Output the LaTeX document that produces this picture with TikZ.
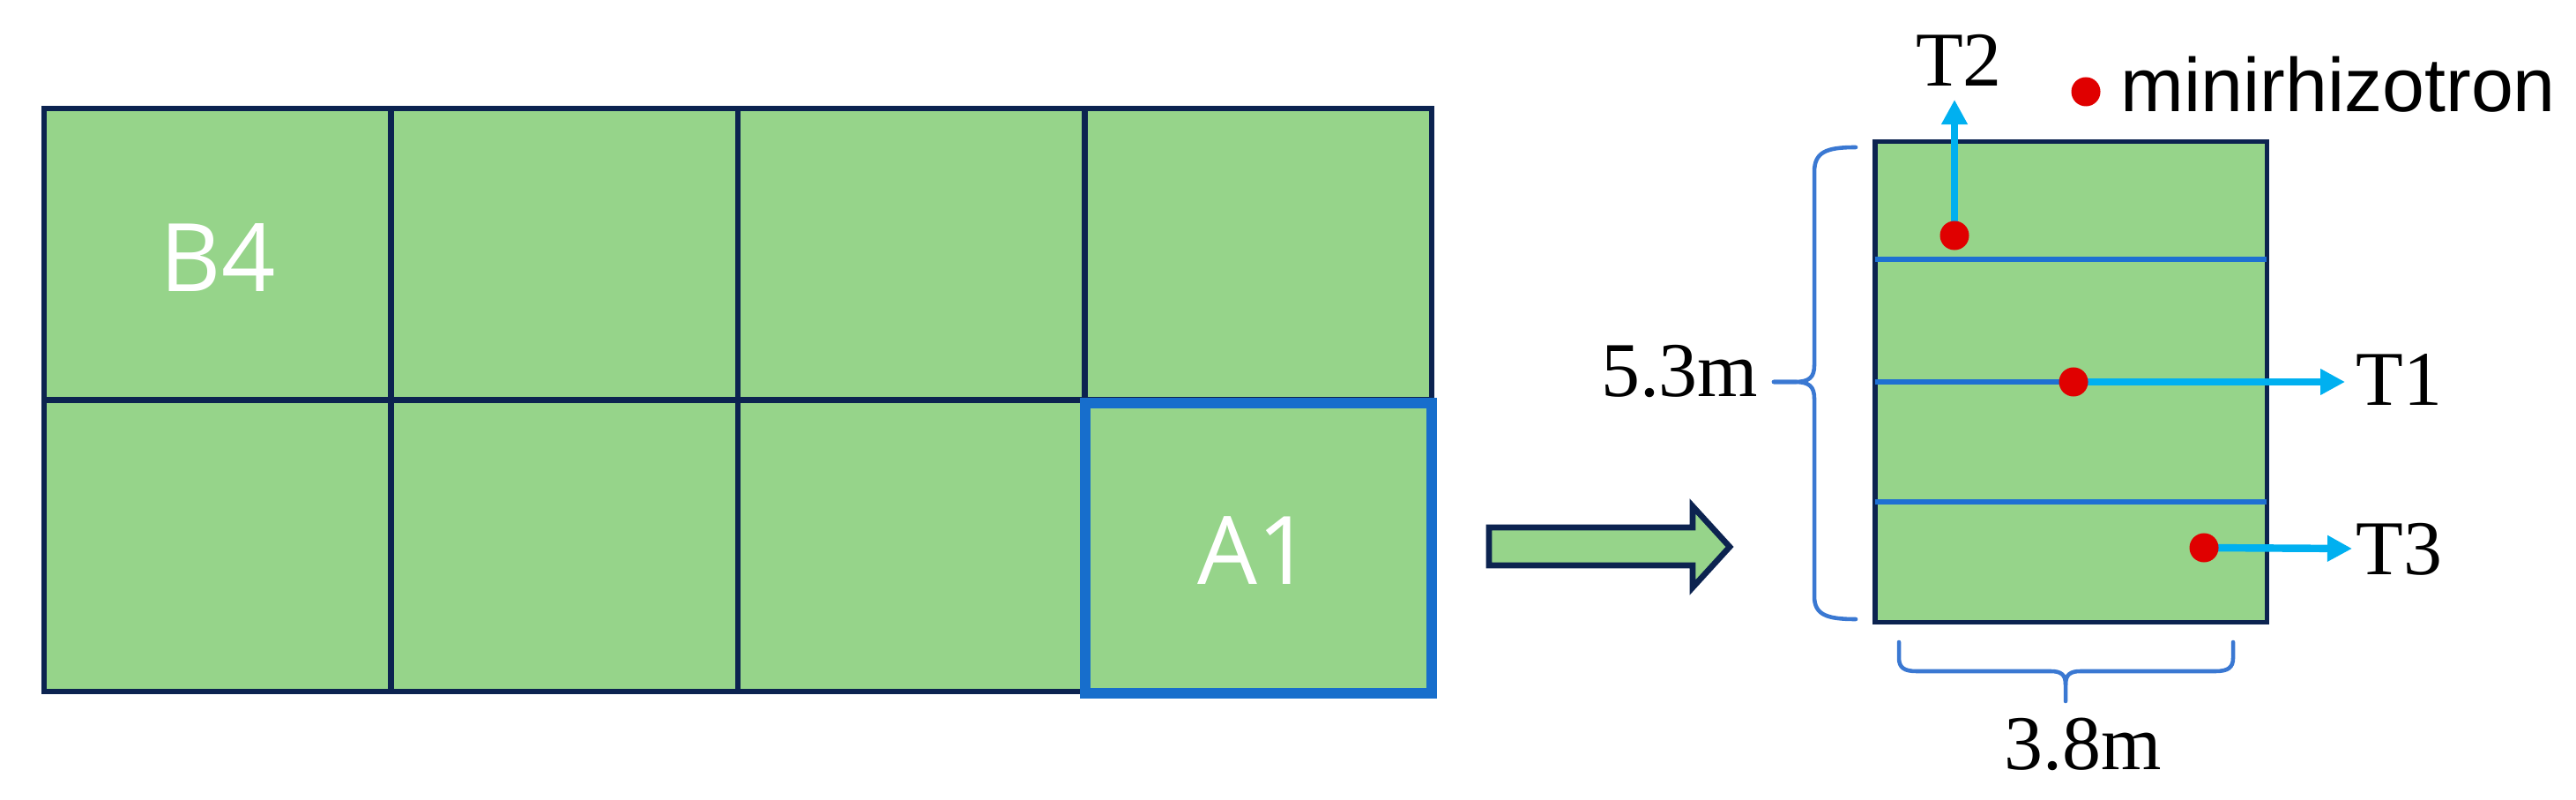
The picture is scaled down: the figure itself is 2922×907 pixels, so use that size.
\documentclass[tikz,border=0pt]{standalone}
\usepackage{fontspec}
\setmainfont{Liberation Serif}
\newfontfamily\labelsans{Liberation Sans}
\newfontfamily\cellsans{Open Sans}
\usetikzlibrary{arrows.meta}
\definecolor{plotgreen}{RGB}{150,212,138}
\definecolor{navy}{RGB}{12,35,80}
\definecolor{blueA}{RGB}{23,110,204}
\definecolor{divblue}{RGB}{30,112,210}
\definecolor{cyanar}{RGB}{0,176,240}
\definecolor{dotred}{RGB}{224,0,0}
\definecolor{braceblue}{RGB}{58,120,210}
\begin{document}
\begin{tikzpicture}[x=0.01cm,y=-0.01cm,
  cell/.style={draw=navy,fill=plotgreen,line width=1.9pt,minimum width=3.935cm,minimum height=3.305cm,inner sep=0pt,outer sep=0pt},
  celltext/.style={text=white,font=\cellsans\fontsize{30.5pt}{36pt}\selectfont,inner sep=0pt},
  highlight/.style={draw=blueA,line width=3.4pt,minimum width=3.93cm,minimum height=3.29cm,inner sep=0pt,outer sep=0pt},
  blockarrow/.style={draw=navy,fill=plotgreen,line width=1.9pt,line join=miter},
  plot/.style={draw=navy,fill=plotgreen,line width=1.5pt,minimum width=4.44cm,minimum height=5.44cm,inner sep=0pt,outer sep=0pt},
  divider/.style={draw=divblue,line width=1.9pt},
  probe/.style={draw=cyanar,line width=2.4pt,-{Triangle[length=0.28cm,width=0.28cm]}},
  reddot/.style={circle,fill=dotred,minimum size=0.33cm,inner sep=0pt},
  bracepath/.style={draw=braceblue,line width=1.3pt,line cap=round,line join=round},
  serif/.style={font=\fontsize{25pt}{30pt}\selectfont,inner sep=0pt},
  sanslabel/.style={font=\labelsans\fontsize{24.5pt}{30pt}\selectfont,inner sep=0pt}
]
\useasboundingbox (0,0) rectangle (2922,907);

% ---- grid of plots ----
\node[cell] (c11) at (246.75,288.25) {};
\node[cell] (c12) at (640.25,288.25) {};
\node[cell] (c13) at (1033.75,288.25) {};
\node[cell] (c14) at (1427.25,288.25) {};
\node[cell] (c21) at (246.75,618.75) {};
\node[cell] (c22) at (640.25,618.75) {};
\node[cell] (c23) at (1033.75,618.75) {};
\node[cell] (c24) at (1427.25,618.75) {};
\node[highlight] (a1box) at (1427.5,621.5) {};
\node[celltext] (b4) at (247,292) {B4};
\node[celltext] (a1) at (1423,624) {A1};

% ---- block arrow ----
\draw[blockarrow] (1689,598) -- (1920,598) -- (1920,574) -- (1962,620) -- (1920,666) -- (1920,641) -- (1689,641) -- cycle;

% ---- enlarged plot ----
\node[plot] (plotA1) at (2349,433) {};
\draw[divider] (plotA1.west |- 0,294) -- (plotA1.east |- 0,294);
\draw[divider] (plotA1.west) -- (plotA1.east);
\draw[divider] (plotA1.west |- 0,569) -- (plotA1.east |- 0,569);

% probes
\coordinate (p1) at (2352,433);
\coordinate (p2) at (2217,267);
\coordinate (p3) at (2500,621);
\coordinate (tip1) at (2660,433);
\coordinate (tip2) at (2217,113);
\coordinate (tip3) at (2668,622);
\draw[probe] (p1) -- (tip1);
\draw[probe] (p2) -- (tip2);
\draw[probe] (p3) -- (tip3);
\node[reddot] (d1) at (p1) {};
\node[reddot] (d2) at (p2) {};
\node[reddot] (d3) at (p3) {};

% labels
\node[serif,anchor=base west] (t1) at (2672,460) {T1};
\node[serif,anchor=base west] (t3) at (2672,651) {T3};
\node[serif,anchor=base] (t2) at (2222,98) {T2};
\node[reddot] (legdot) at (2366,104) {};
\node[sanslabel,anchor=base west] (legend) at (2405,127) {minirhizotron};

% braces
\draw[bracepath] (2105,167) .. controls (2072,167) and (2058,172) .. (2058,195) -- (2058,414)
  .. controls (2058,428) and (2052,433) .. (2036,433) -- (2012,433);
\draw[bracepath] (2012,433) -- (2036,433) .. controls (2052,433) and (2058,438) .. (2058,452)
  -- (2058,676) .. controls (2058,697) and (2072,702) .. (2105,702);
\node[serif,anchor=base east] (h53) at (1995,450) {5.3m};

\draw[bracepath] (2154,728) -- (2154,746) .. controls (2154,757) and (2160,761) .. (2174,761)
  -- (2326,761) .. controls (2338,761) and (2343,765) .. (2343,776) -- (2343,795);
\draw[bracepath] (2533,728) -- (2533,746) .. controls (2533,757) and (2527,761) .. (2513,761)
  -- (2360,761) .. controls (2348,761) and (2343,765) .. (2343,776);
\node[serif,anchor=base] (w38) at (2363,872) {3.8m};
\end{tikzpicture}
\end{document}
